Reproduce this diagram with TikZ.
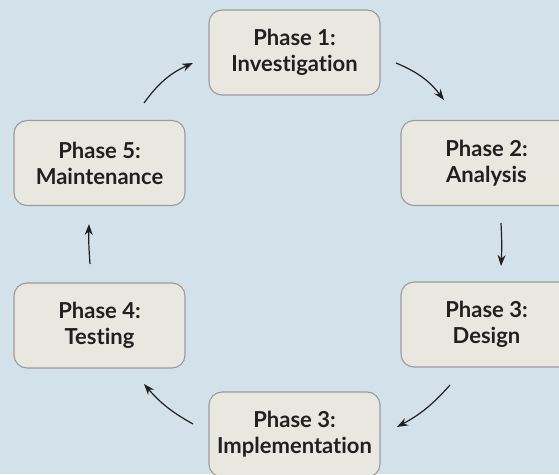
\documentclass[tikz,border=0pt]{standalone}
\usepackage{fontspec}
\setmainfont{Lato}[BoldFont=* Bold, Ligatures=NoCommon]
\usetikzlibrary{arrows.meta}
\definecolor{bgblue}{RGB}{211,226,234}
\definecolor{boxfill}{RGB}{233,232,224}
\definecolor{boxline}{RGB}{155,155,155}
\definecolor{ink}{RGB}{35,31,32}
\tikzset{
  phase/.style={draw=boxline, line width=1.1pt, fill=boxfill, rounded corners=13pt,
    minimum width=171pt, minimum height=85pt, inner sep=0pt, align=center,
    text=ink, font=\fontsize{22}{26}\selectfont\bfseries},
  flow/.style={draw=ink, line width=1.2pt,
    -{Stealth[length=11pt,width=8pt]}}
}
\begin{document}
\begin{tikzpicture}[x=1pt,y=-1pt]
  \fill[bgblue] (0,0) rectangle (559,474);
  \useasboundingbox (0,0) rectangle (559,474);
  \clip (0,0) rectangle (559,474);

  % the six phase boxes
  \node[phase] (inv)  at (294.5,52.5)  {Phase 1:\\Investigation};
  \node[phase] (ana)  at (486.5,163)   {Phase 2:\\Analysis};
  \node[phase] (des)  at (486.5,324.5) {Phase 3:\\Design};
  \node[phase] (imp)  at (294.5,434.5) {Phase 3:\\Implementation};
  \node[phase] (tst)  at (99.5,325.5)  {Phase 4:\\Testing};
  \node[phase] (mnt)  at (99.5,163)    {Phase 5:\\Maintenance};

  % arrow end points in the gaps between boxes
  \coordinate (a1s) at (396,63);  \coordinate (a1e) at (444,100);
  \coordinate (a2s) at (501,223); \coordinate (a2e) at (501,266);
  \coordinate (a3s) at (450,385); \coordinate (a3e) at (397,427);
  \coordinate (a4s) at (193,424); \coordinate (a4e) at (144,384);
  \coordinate (a5s) at (90,264);  \coordinate (a5e) at (89,224);
  \coordinate (a6s) at (144,103); \coordinate (a6e) at (193,63);

  % clockwise cycle
  \draw[flow] (a1s) to[bend left=15] (a1e);
  \draw[flow] (a2s) to[bend left=3]  (a2e);
  \draw[flow] (a3s) to[bend left=10] (a3e);
  \draw[flow] (a4s) to[bend left=10] (a4e);
  \draw[flow] (a5s) to[bend left=3]  (a5e);
  \draw[flow] (a6s) to[bend left=15] (a6e);
\end{tikzpicture}
\end{document}
